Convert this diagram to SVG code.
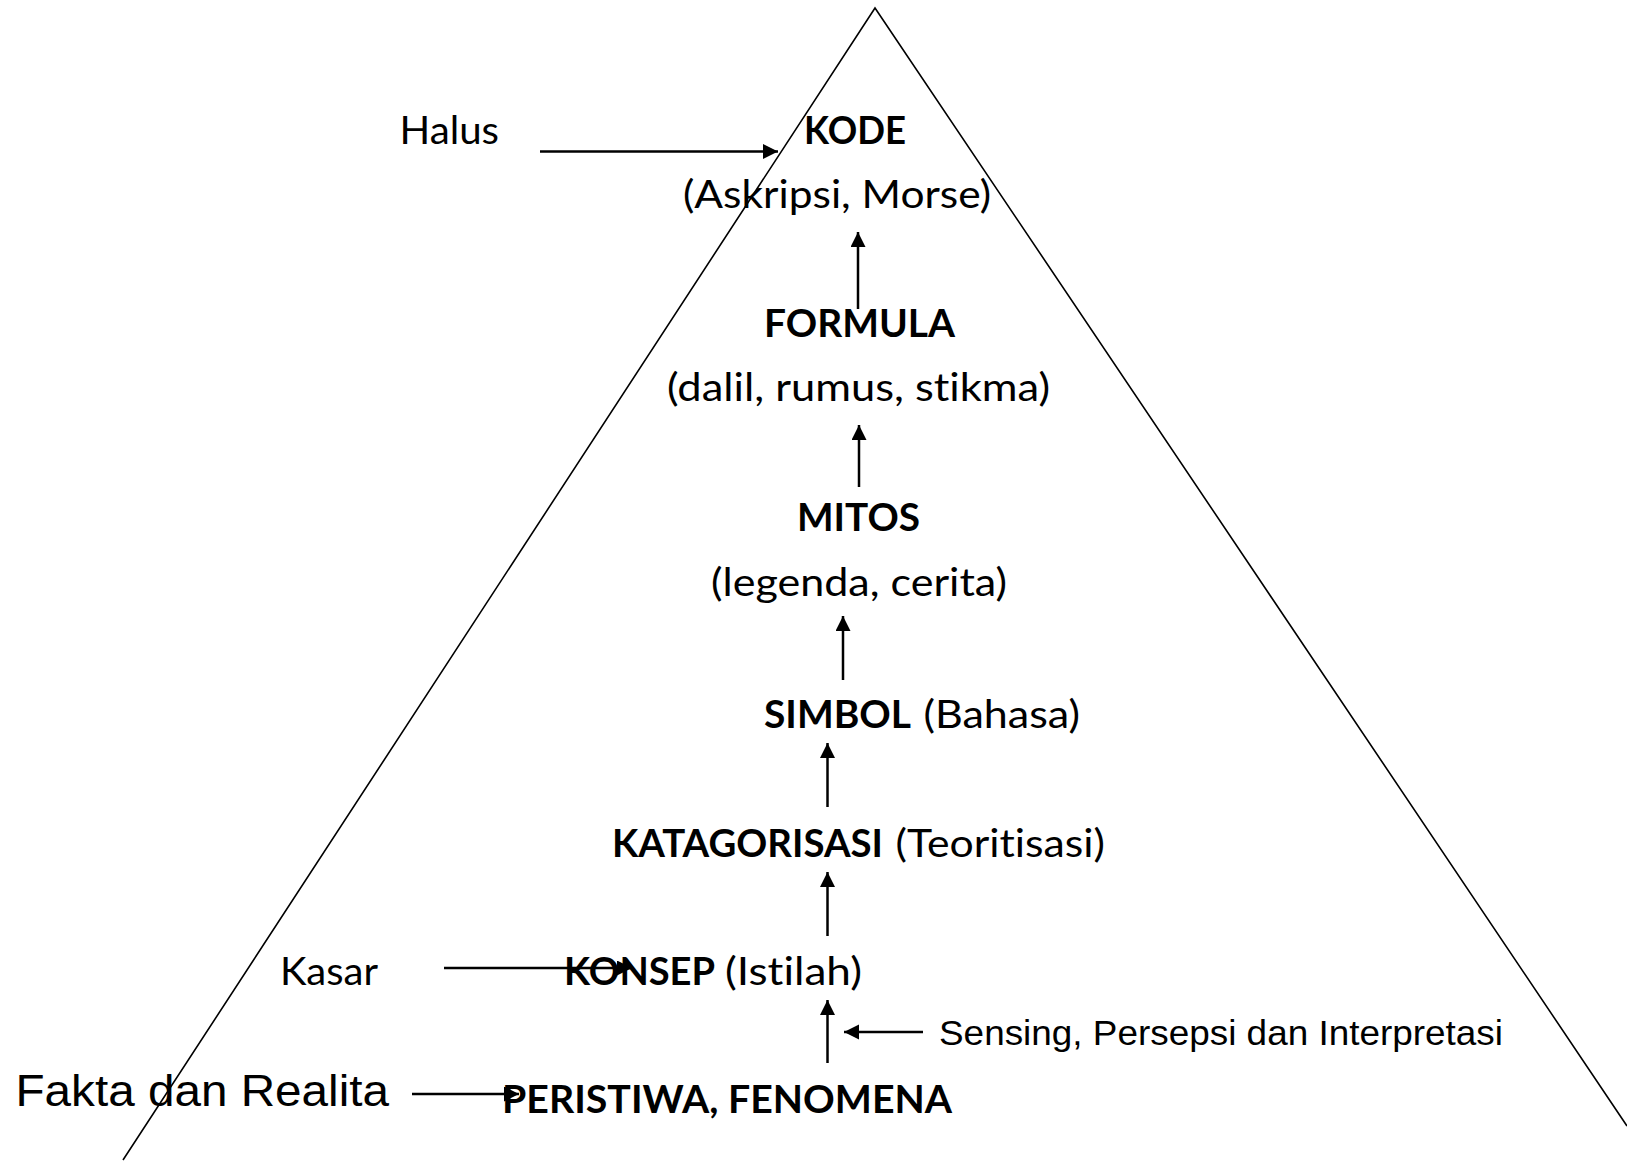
<svg xmlns="http://www.w3.org/2000/svg" width="1627" height="1172" viewBox="0 0 1627 1172">
<style>
.c{font-family:Lato,"Open Sans","Liberation Sans",sans-serif;font-size:38px;fill:#000;font-variant-ligatures:none}
.b{font-weight:bold}
.a{font-family:"Liberation Sans",Arial,sans-serif;fill:#000}
.tri{fill:none;stroke:#000;stroke-width:1.6}
.ar{fill:none;stroke:#000;stroke-width:2.5;marker-end:url(#ah)}
</style>
<defs>
<marker id="ah" markerUnits="userSpaceOnUse" markerWidth="16" markerHeight="16" refX="15" refY="7.5" orient="auto">
<path d="M0,0 L15,7.5 L0,15 z" fill="#000"/>
</marker>
</defs>
<rect width="1627" height="1172" fill="#fff"/>
<g id="pyramid">
<polyline class="tri" points="123,1160 875,8 1627,1126"/>
</g>
<g id="connectors">
<line class="ar" x1="540" y1="151.5" x2="778" y2="151.5"/>
<line class="ar" x1="858" y1="309" x2="858" y2="232"/>
<line class="ar" x1="859" y1="487" x2="859" y2="425"/>
<line class="ar" x1="843" y1="680" x2="843" y2="616"/>
<line class="ar" x1="827.5" y1="807" x2="827.5" y2="743"/>
<line class="ar" x1="827.5" y1="936" x2="827.5" y2="872"/>
<line class="ar" x1="444" y1="968" x2="632" y2="968"/>
<line class="ar" x1="827.5" y1="1063" x2="827.5" y2="1000"/>
<line class="ar" x1="923" y1="1032" x2="844" y2="1032"/>
<line class="ar" x1="412" y1="1094" x2="519" y2="1094"/>
</g>
<g id="halus"><text class="c" x="399.5" y="144" textLength="99.5" lengthAdjust="spacingAndGlyphs">Halus</text></g>
<g id="kode">
<text class="c b" x="804" y="144" textLength="102" lengthAdjust="spacingAndGlyphs">KODE</text>
<text class="c" x="683" y="208" textLength="308" lengthAdjust="spacingAndGlyphs">(Askripsi, Morse)</text>
</g>
<g id="formula">
<text class="c b" x="764" y="337" textLength="191" lengthAdjust="spacingAndGlyphs">FORMULA</text>
<text class="c" x="667" y="401" textLength="383" lengthAdjust="spacingAndGlyphs">(dalil, rumus, stikma)</text>
</g>
<g id="mitos">
<text class="c b" x="797" y="531" textLength="123" lengthAdjust="spacingAndGlyphs">MITOS</text>
<text class="c" x="711" y="596" textLength="296" lengthAdjust="spacingAndGlyphs">(legenda, cerita)</text>
</g>
<g id="simbol">
<text class="c"><tspan class="b" x="764" y="728" textLength="147" lengthAdjust="spacingAndGlyphs">SIMBOL</tspan><tspan x="923.5" y="728" textLength="156.5" lengthAdjust="spacingAndGlyphs">(Bahasa)</tspan></text>
</g>
<g id="katagorisasi">
<text class="c"><tspan class="b" x="612" y="857" textLength="271" lengthAdjust="spacingAndGlyphs">KATAGORISASI</tspan><tspan x="895.5" y="857" textLength="209.5" lengthAdjust="spacingAndGlyphs">(Teoritisasi)</tspan></text>
</g>
<g id="kasar"><text class="c" x="280" y="985" textLength="98" lengthAdjust="spacingAndGlyphs">Kasar</text></g>
<g id="konsep">
<text class="c"><tspan class="b" x="564" y="985" textLength="151" lengthAdjust="spacingAndGlyphs">KONSEP</tspan><tspan x="725" y="985" textLength="137" lengthAdjust="spacingAndGlyphs">(Istilah)</tspan></text>
</g>
<g id="sensing"><text class="a" x="939" y="1045" font-size="35" textLength="564" lengthAdjust="spacingAndGlyphs">Sensing, Persepsi dan Interpretasi</text></g>
<g id="fakta"><text class="a" x="15.5" y="1106" font-size="45" textLength="373.5" lengthAdjust="spacingAndGlyphs">Fakta dan Realita</text></g>
<g id="peristiwa"><text class="c b" x="502" y="1113" textLength="450" lengthAdjust="spacingAndGlyphs">PERISTIWA, FENOMENA</text></g>
</svg>
